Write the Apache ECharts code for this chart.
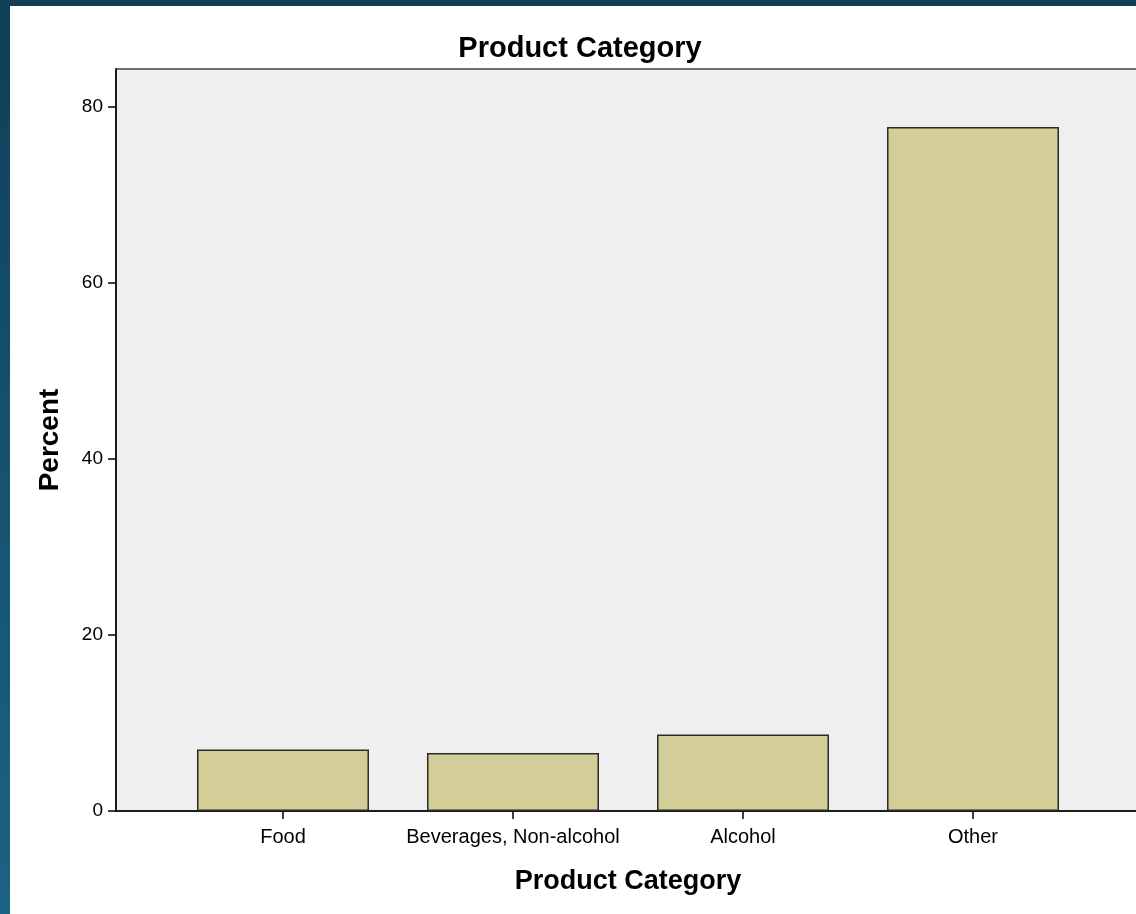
<!DOCTYPE html>
<html>
<head>
<meta charset="utf-8">
<script src="https://cdn.jsdelivr.net/npm/echarts@6/dist/echarts.min.js"></script>
<style>
html,body{margin:0;padding:0;width:1136px;height:914px;overflow:hidden;}
body{background:linear-gradient(to bottom,#0f3e56 0%,#165270 50%,#1c6284 100%);position:relative;}
#chart{position:absolute;left:10px;top:6px;width:1130px;height:908px;background:#ffffff;}
</style>
</head>
<body>
<div id="chart"></div>
<script>
const categories = ["Food", "Beverages, Non-alcohol", "Alcohol", "Other"];
const percentValues = [7.0, 6.6, 8.7, 77.7];
const yTickValues = [0, 20, 40, 60, 80];
const chartTitle = "Product Category";
const xAxisTitle = "Product Category";
const yAxisTitle = "Percent";

const FONT = "'Liberation Sans', Arial, sans-serif";
const chart = echarts.init(document.getElementById('chart'), null, {renderer: 'canvas'});
const option = {
  animation: false,
  backgroundColor: '#ffffff',
  title: {
    text: chartTitle,
    left: 570,
    top: 28,
    textAlign: 'center',
    padding: 0,
    textStyle: {fontFamily: FONT, fontSize: 29, fontWeight: 'bold', color: '#000'}
  },
  grid: {
    left: 106, top: 63, bottom: 103, right: 0,
    show: true, backgroundColor: '#efefef', borderColor: '#707070', borderWidth: 2,
    containLabel: false
  },
  xAxis: {
    type: 'value',
    min: -0.726,
    max: 3.726,
    name: xAxisTitle,
    nameLocation: 'middle',
    nameGap: 57,
    nameTextStyle: {fontFamily: FONT, fontSize: 27, fontWeight: 'bold', color: '#000'},
    splitLine: {show: false},
    axisLine: {show: true, onZero: false, lineStyle: {color: '#000', width: 1.5}},
    axisTick: {show: true, inside: false, length: 8, lineStyle: {color: '#000', width: 1.5}, customValues: categories.map((c, i) => i)},
    axisLabel: {
      customValues: categories.map((c, i) => i),
      margin: 16,
      fontFamily: FONT, fontSize: 20, color: '#000',
      formatter: v => categories[Math.round(v)] ?? ''
    }
  },
  yAxis: {
    type: 'value',
    min: 0,
    max: 84.3,
    name: yAxisTitle,
    nameLocation: 'middle',
    nameGap: 52,
    nameTextStyle: {fontFamily: FONT, fontSize: 28, fontWeight: 'bold', color: '#000'},
    splitLine: {show: false},
    axisLine: {show: true, onZero: false, lineStyle: {color: '#000', width: 1.5}},
    axisTick: {show: true, inside: false, length: 8, lineStyle: {color: '#000', width: 1.5}, customValues: yTickValues},
    axisLabel: {customValues: yTickValues, margin: 13, fontFamily: FONT, fontSize: 19, color: '#000'}
  },
  series: [{
    type: 'bar',
    barWidth: 172,
    data: percentValues.map((v, i) => [i, v]),
    itemStyle: {color: '#d3ce97', borderColor: '#2a2a2a', borderWidth: 1.5}
  }]
};
chart.setOption(option);
</script>
</body>
</html>
